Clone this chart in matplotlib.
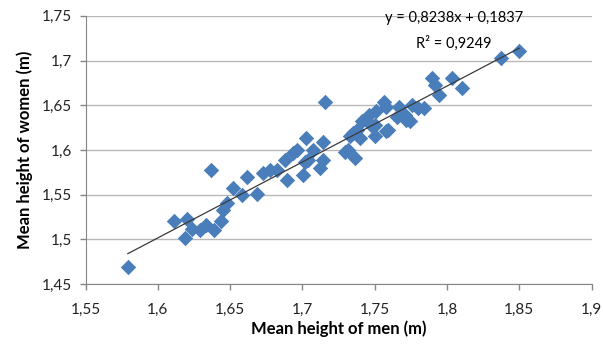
import numpy as np
import matplotlib
matplotlib.use("Agg")
import matplotlib.pyplot as plt
from matplotlib.ticker import FuncFormatter

# mean heights per country
men = [1.5792, 1.6109, 1.6203, 1.6185, 1.6236, 1.6292, 1.6330, 1.6368, 1.6387, 1.6434,
       1.6453, 1.6478, 1.6519, 1.6581, 1.6613, 1.6685, 1.6726, 1.6774, 1.6821, 1.6877,
       1.6896, 1.6934, 1.6962, 1.7006, 1.7019, 1.7028, 1.7038, 1.7075, 1.7120, 1.7142,
       1.7142, 1.7155, 1.7293, 1.7316, 1.7327, 1.7349, 1.7362, 1.7375, 1.7396, 1.7415,
       1.7443, 1.7462, 1.7500, 1.7500, 1.7509, 1.7489, 1.7566, 1.7581, 1.7581, 1.7592,
       1.7651, 1.7670, 1.7708, 1.7717, 1.7742, 1.7755, 1.7797, 1.7844, 1.7896, 1.7915,
       1.7943, 1.8038, 1.8104, 1.8377, 1.8500]
women = [1.469, 1.5205, 1.5224, 1.5011, 1.5114, 1.5104, 1.516, 1.5776, 1.510, 1.520,
         1.533, 1.5403, 1.557, 1.5496, 1.5694, 1.5505, 1.574, 1.578, 1.578, 1.589,
         1.566, 1.596, 1.600, 1.572, 1.587, 1.613, 1.589, 1.600, 1.580, 1.589,
         1.609, 1.654, 1.598, 1.600, 1.615, 1.619, 1.5908, 1.6225, 1.613, 1.632,
         1.6336, 1.639, 1.615, 1.628, 1.643, 1.626, 1.654, 1.6485, 1.6206, 1.6225,
         1.637, 1.6485, 1.639, 1.6336, 1.632, 1.650, 1.647, 1.6467, 1.680, 1.673,
         1.662, 1.680, 1.669, 1.7026, 1.711]

xticks = [1.55, 1.6, 1.65, 1.7, 1.75, 1.8, 1.85, 1.9]
yticks = [1.45, 1.5, 1.55, 1.6, 1.65, 1.7, 1.75]
equation = "y = 0,8238x + 0,1837"
r2_text = "R² = 0,9249"

plt.rcParams['font.family'] = ['Lato', 'DejaVu Sans']

fig = plt.figure(figsize=(6.03, 3.45), dpi=100)
ax = fig.add_axes([0.142, 0.177, 0.839, 0.777])

ax.scatter(men, women, marker='D', s=62, color='#4a7ebb', zorder=3, linewidths=0)

# linear trend line over the data range
k, b = np.polyfit(men, women, 1)
xs = np.array([min(men), max(men)])
ax.plot(xs, k * xs + b, color='#3a3a3a', lw=0.9, zorder=4)

ax.set_xlim(1.55, 1.9)
ax.set_ylim(1.45, 1.75)
ax.set_xticks(xticks)
ax.set_yticks(yticks)
comma = FuncFormatter(lambda v, p: f"{v:g}".replace('.', ','))
ax.xaxis.set_major_formatter(comma)
ax.yaxis.set_major_formatter(comma)
ax.tick_params(colors='#868686', labelcolor='#222222', labelsize=11, length=4, width=1)
ax.tick_params(axis='x', pad=10)
ax.tick_params(axis='y', pad=6)

ax.grid(axis='y', color='#b8b8b8', lw=1)
ax.set_axisbelow(True)
for s in ['top', 'right']:
    ax.spines[s].set_visible(False)
for s in ['left', 'bottom']:
    ax.spines[s].set_color('#868686')

ax.set_xlabel("Mean height of men (m)", fontsize=12, fontweight='bold', labelpad=2)
ax.set_ylabel("Mean height of women (m)", fontsize=12, fontweight='bold', labelpad=6)

ax.text(0.728, 0.993, equation, transform=ax.transAxes, ha='center', va='center', fontsize=10.5)
ax.text(0.728, 0.896, r2_text, transform=ax.transAxes, ha='center', va='center', fontsize=10.5)

fig.savefig("out.png", dpi=100)
